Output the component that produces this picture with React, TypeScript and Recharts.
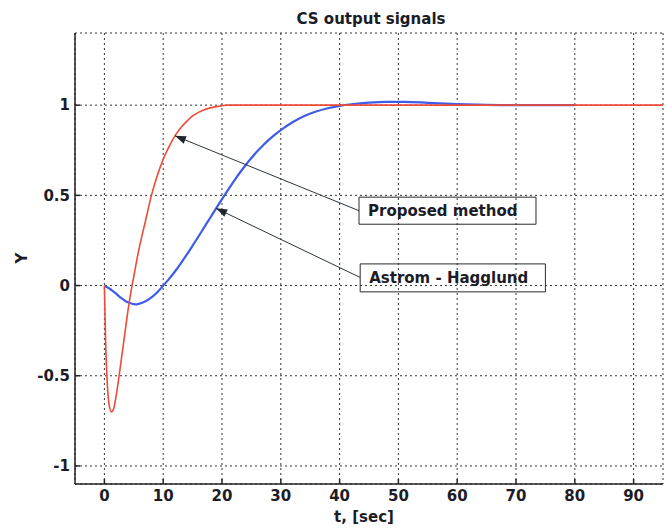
import { LineChart, Line, XAxis, YAxis, CartesianGrid, ReferenceArea, ReferenceLine } from 'recharts'

// Simulation time, [sec]
const time = [
  0, 0.2, 0.5, 0.8, 1.2, 1.6, 2, 2.5, 3, 3.5, 4, 4.7, 5, 5.5, 6, 7, 8, 9, 10,
  11, 12, 13, 14, 15, 16, 17, 18, 19, 20, 21, 22, 23, 24, 25, 26, 27, 28, 29, 30,
  32, 34, 36, 38, 40, 42, 45, 48, 51, 55, 60, 65, 70, 75, 80, 85, 90, 95,
]

// Closed-loop output, proposed tuning
const proposedMethod = [
  0, -0.3, -0.55, -0.66, -0.7, -0.68, -0.61, -0.5, -0.38, -0.26, -0.14, 0, 0.05, 0.14, 0.22, 0.36, 0.5, 0.61, 0.7,
  0.77, 0.83, 0.875, 0.91, 0.94, 0.96, 0.975, 0.985, 0.992, 0.997, 1, 1, 1, 1, 1, 1, 1, 1, 1, 1,
  1, 1, 1, 1, 1, 1, 1, 1, 1, 1, 1, 1, 1, 1, 1, 1, 1, 1,
]

// Closed-loop output, Astrom - Hagglund tuning
const astromHagglund = [
  0, -0.005, -0.01, -0.015, -0.025, -0.035, -0.045, -0.06, -0.073, -0.084, -0.093, -0.101, -0.103, -0.104, -0.1, -0.087, -0.066, -0.037, 0,
  0.037, 0.078, 0.123, 0.171, 0.221, 0.272, 0.324, 0.376, 0.428, 0.479, 0.529, 0.578, 0.624, 0.667, 0.707, 0.744, 0.778, 0.809, 0.837, 0.862,
  0.905, 0.94, 0.965, 0.983, 0.996, 1.005, 1.014, 1.018, 1.018, 1.013, 1.006, 1.002, 1.0, 1.0, 1.0, null, null, null,
]

const xTicks = [0, 10, 20, 30, 40, 50, 60, 70, 80, 90]
const yTicks = [-1, -0.5, 0, 0.5, 1]

const data = time.map((t, i) => ({ t, proposed: proposedMethod[i], astrom: astromHagglund[i] }))

const valueAt = (series: (number | null)[], t: number) => series[time.indexOf(t)] as number

const font = '"DejaVu Sans", Verdana, sans-serif'
const ink = '#1c1c26'
const tickStyle = { fontSize: 15, fontWeight: 'bold', fill: ink, fontFamily: font }

// text boxes with a pointer to their curve
const callouts = [
  {
    text: 'Proposed method',
    box: { x1: 43.3, x2: 73.4, y1: 0.34, y2: 0.49 },
    from: { x: 43.3, y: 0.415 },
    to: { x: 12, y: valueAt(proposedMethod, 12) },
  },
  {
    text: 'Astrom - Hagglund',
    box: { x1: 43.5, x2: 75, y1: -0.035, y2: 0.12 },
    from: { x: 43.5, y: 0.045 },
    to: { x: 19, y: valueAt(astromHagglund, 19) },
  },
]

function Arrow(props: any) {
  const { x1, y1, x2, y2 } = props
  const a = Math.atan2(y2 - y1, x2 - x1)
  const len = 11
  const half = 4
  const bx = x2 - len * Math.cos(a)
  const by = y2 - len * Math.sin(a)
  const pts = [
    `${x2},${y2}`,
    `${bx - half * Math.sin(a)},${by + half * Math.cos(a)}`,
    `${bx + half * Math.sin(a)},${by - half * Math.cos(a)}`,
  ].join(' ')
  return (
    <g>
      <line x1={x1} y1={y1} x2={x2} y2={y2} stroke="#2a3440" strokeWidth={1} />
      <polygon points={pts} fill="#1e2630" />
    </g>
  )
}

export default function App() {
  return (
    <div style={{ position: 'absolute', left: 0, top: 0, width: 668, height: 528, background: '#fff' }}>
      <LineChart width={668} height={528} data={data} margin={{ top: 33, right: 5, bottom: 14, left: 15 }}>
        <CartesianGrid stroke="#333" strokeDasharray="2 3" />
        <XAxis
          dataKey="t"
          type="number"
          domain={[-5, 95]}
          ticks={xTicks}
          allowDataOverflow
          height={30}
          tickSize={-5}
          tickMargin={11}
          tick={tickStyle}
          stroke="#222"
          strokeWidth={1.5}
        />
        <XAxis xAxisId="top" orientation="top" type="number" domain={[-5, 95]} ticks={xTicks} height={0}
          mirror tick={false} tickSize={5} stroke="#222" strokeWidth={1.5} />
        <YAxis
          type="number"
          domain={[-1.1, 1.4]}
          ticks={yTicks}
          allowDataOverflow
          width={60}
          tickSize={-5}
          tickMargin={10}
          tick={tickStyle}
          stroke="#222"
          strokeWidth={1.5}
        />
        <YAxis yAxisId="right" orientation="right" type="number" domain={[-1.1, 1.4]} ticks={yTicks} width={0}
          mirror tick={false} tickSize={5} stroke="#222" strokeWidth={1.5} />

        <Line dataKey="astrom" type="monotone" stroke="#3f5ce6" strokeWidth={2.2} dot={false} isAnimationActive={false} connectNulls={false} />
        <Line dataKey="proposed" type="monotone" stroke="#ee4a3a" strokeWidth={1.6} dot={false} isAnimationActive={false} />

        {callouts.map(c => (
          <ReferenceArea
            key={c.text}
            {...c.box}
            fill="none"
            fillOpacity={0}
            stroke="#2a2a30"
            strokeWidth={1}
            label={{ value: c.text, position: 'insideLeft', offset: 9, ...tickStyle }}
          />
        ))}
        {callouts.map(c => (
          <ReferenceLine key={c.text + '-arrow'} segment={[c.from, c.to]} shape={Arrow} />
        ))}
      </LineChart>

      <svg width={668} height={528} style={{ position: 'absolute', left: 0, top: 0, pointerEvents: 'none' }}>
        <g fontFamily={font} fontWeight="bold" fontSize={15} fill={ink} textAnchor="middle">
          <text x={371} y={24}>CS output signals</text>
          <text x={364} y={522}>t, [sec]</text>
          <text transform="translate(27,258) rotate(-90)">Y</text>
        </g>
      </svg>
    </div>
  )
}
